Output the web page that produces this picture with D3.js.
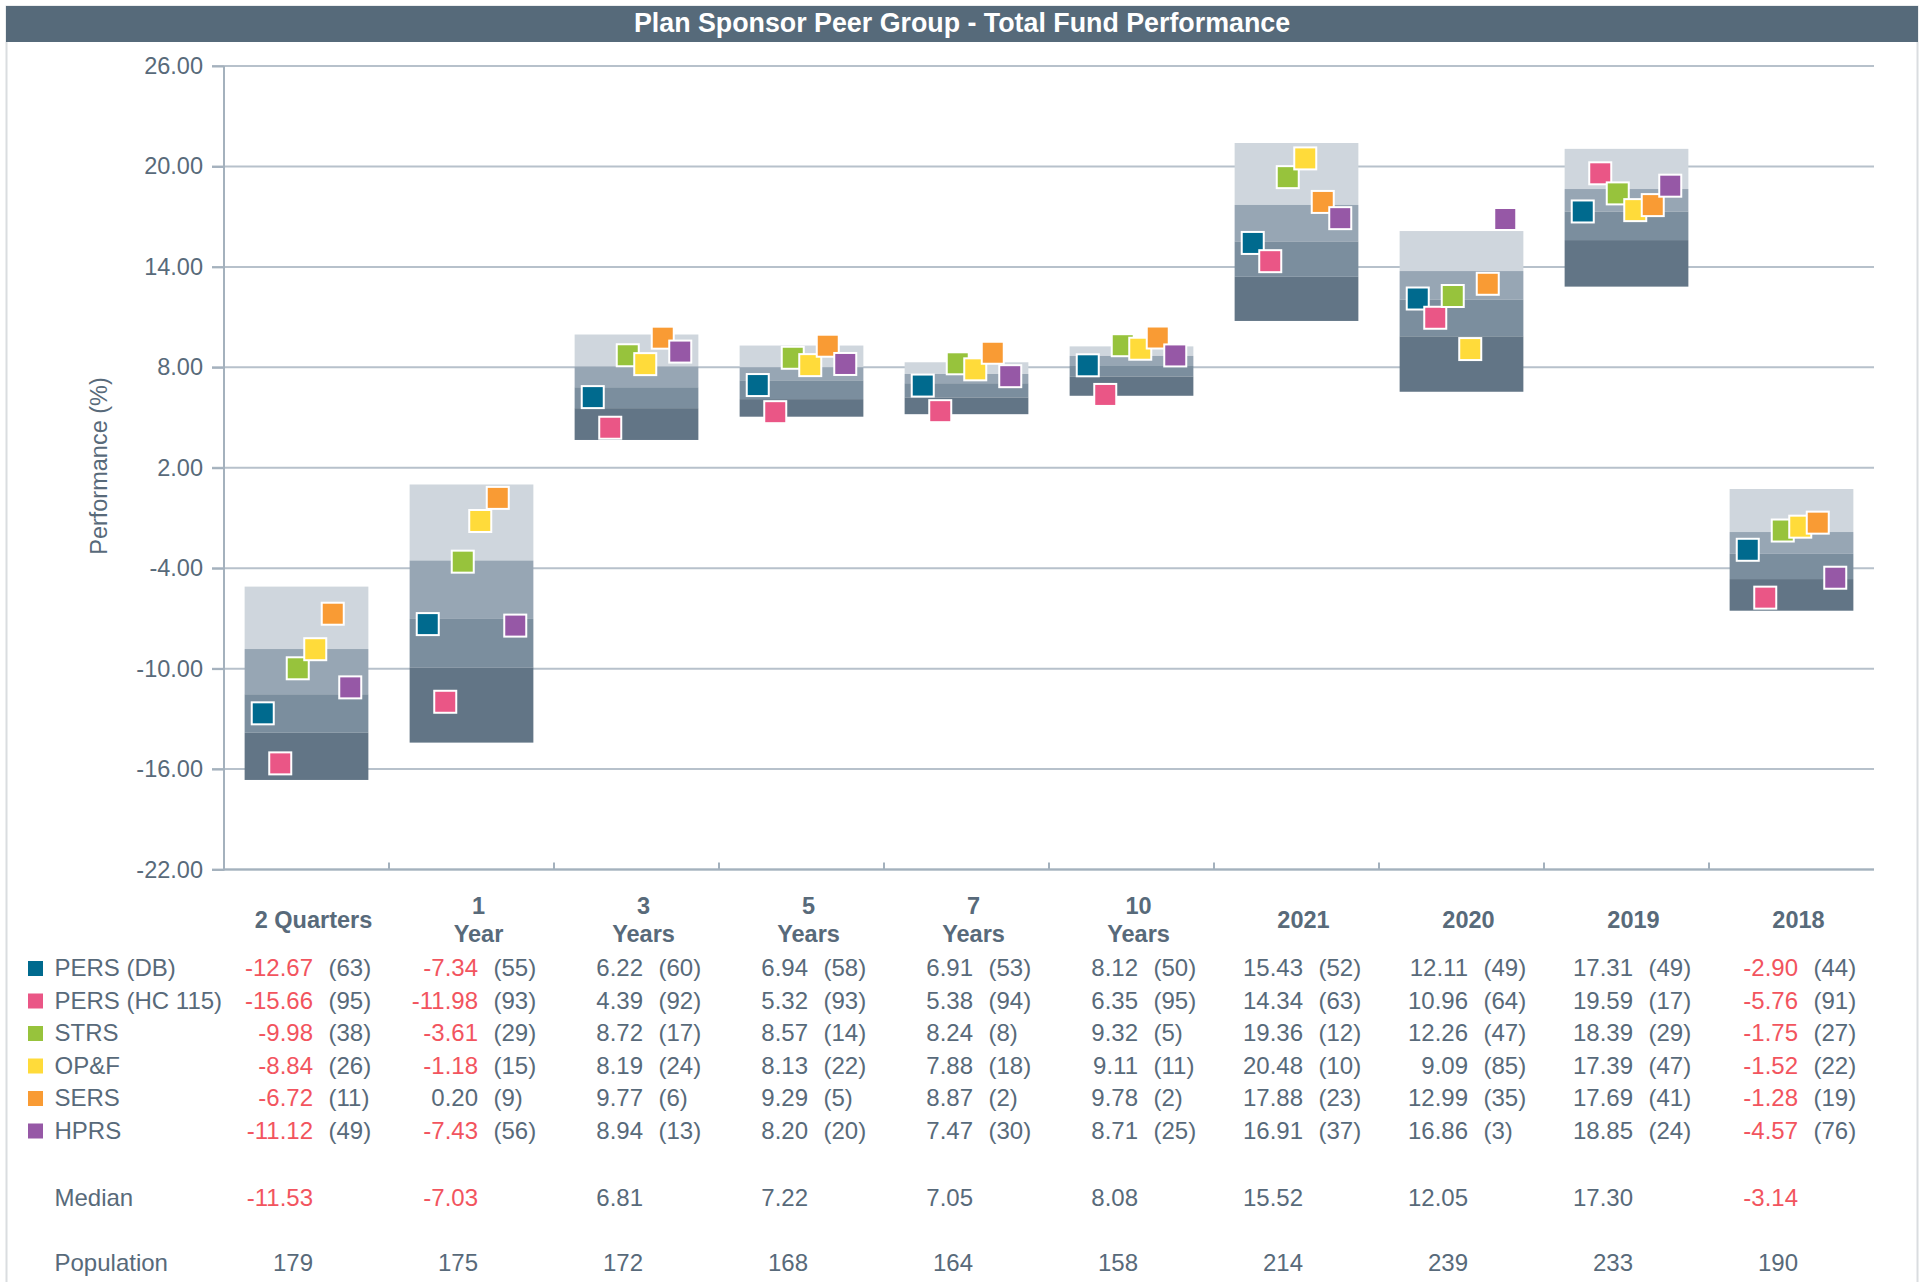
<!DOCTYPE html>
<html>
<head>
<meta charset="utf-8">
<script src="https://cdn.jsdelivr.net/npm/d3@7"></script>
<style>
  html, body { margin: 0; padding: 0; background: #fff; }
  svg { display: block; font-family: "Liberation Sans", Arial, sans-serif; }
</style>
</head>
<body>
<svg id="chart" width="1923" height="1282"></svg>
<script>
// ---------- DATA ----------
const title = "Plan Sponsor Peer Group - Total Fund Performance";
const yAxisTitle = "Performance (%)";
const categories = ["2 Quarters", "1 Year", "3 Years", "5 Years", "7 Years", "10 Years", "2021", "2020", "2019", "2018"];
const headerLines = [["2 Quarters"], ["1", "Year"], ["3", "Years"], ["5", "Years"], ["7", "Years"], ["10", "Years"], ["2021"], ["2020"], ["2019"], ["2018"]];
const yTicks = [26, 20, 14, 8, 2, -4, -10, -16, -22];

// peer group percentiles (5th, 25th, median, 75th, 95th)
const p05 = [-5.10, 1.00, 9.96, 9.30, 8.30, 9.25, 21.40, 16.14, 21.05, 0.73];
const p25 = [-8.83, -3.54, 8.05, 8.00, 7.60, 8.68, 17.70, 13.75, 18.65, -1.84];
const median = [-11.53, -7.03, 6.81, 7.22, 7.05, 8.08, 15.52, 12.05, 17.30, -3.14];
const p75 = [-13.83, -9.94, 5.56, 6.10, 6.20, 7.45, 13.41, 9.85, 15.60, -4.65];
const p95 = [-16.65, -14.42, 3.66, 5.05, 5.20, 6.30, 10.77, 6.54, 12.82, -6.54];
const population = [179, 175, 172, 168, 164, 158, 214, 239, 233, 190];

const seriesNames = ["PERS (DB)", "PERS (HC 115)", "STRS", "OP&F", "SERS", "HPRS"];
const persDB   = [-12.67, -7.34, 6.22, 6.94, 6.91, 8.12, 15.43, 12.11, 17.31, -2.90];
const persHC   = [-15.66, -11.98, 4.39, 5.32, 5.38, 6.35, 14.34, 10.96, 19.59, -5.76];
const strs     = [-9.98, -3.61, 8.72, 8.57, 8.24, 9.32, 19.36, 12.26, 18.39, -1.75];
const opf      = [-8.84, -1.18, 8.19, 8.13, 7.88, 9.11, 20.48, 9.09, 17.39, -1.52];
const sers     = [-6.72, 0.20, 9.77, 9.29, 8.87, 9.78, 17.88, 12.99, 17.69, -1.28];
const hprs     = [-11.12, -7.43, 8.94, 8.20, 7.47, 8.71, 16.91, 16.86, 18.85, -4.57];
const rankDB   = [63, 55, 60, 58, 53, 50, 52, 49, 49, 44];
const rankHC   = [95, 93, 92, 93, 94, 95, 63, 64, 17, 91];
const rankSTRS = [38, 29, 17, 14, 8, 5, 12, 47, 29, 27];
const rankOPF  = [26, 15, 24, 22, 18, 11, 10, 85, 47, 22];
const rankSERS = [11, 9, 6, 5, 2, 2, 23, 35, 41, 19];
const rankHPRS = [49, 56, 13, 20, 30, 25, 37, 3, 24, 76];

// ---------- STYLE ----------
const seriesColors = ["#006A8E", "#EA5686", "#97C33C", "#FFDB3A", "#F99B34", "#9658A6"];
const segColors = ["#CFD6DD", "#97A6B4", "#7B8E9E", "#627586"];
const textColor = "#586A7A";
const negColor = "#F2545E";
const gridColor = "#B7C1CB";
const axisColor = "#A4B1BD";
const fontSize = 24;

const seriesValues = [persDB, persHC, strs, opf, sers, hprs];
const seriesRanks = [rankDB, rankHC, rankSTRS, rankOPF, rankSERS, rankHPRS];
const series = seriesNames.map((n, i) => ({ name: n, color: seriesColors[i], values: seriesValues[i], ranks: seriesRanks[i] }));

const locale = d3.formatLocale({ decimal: ".", thousands: ",", grouping: [3], currency: ["$", ""], minus: "-" });
const fmt = locale.format(".2f");

const svg = d3.select("#chart");

// frame + title bar
svg.append("rect").attr("x", 6.5).attr("y", 6.5).attr("width", 1911).attr("height", 1290)
  .attr("fill", "#fff").attr("stroke", "#DADDE0").attr("stroke-width", 2);
svg.append("rect").attr("x", 6).attr("y", 6).attr("width", 1912).attr("height", 36).attr("fill", "#566A7A");
svg.append("text").attr("x", 962).attr("y", 31.5).attr("text-anchor", "middle")
  .attr("fill", "#fff").attr("font-weight", "bold").attr("font-size", 26.8).text(title);

// scales
const x0 = 224, x1 = 1874;
const x = d3.scaleBand().domain(categories).range([x0, x1]).paddingInner(0.25).paddingOuter(0.125);
const xs = d3.scaleBand().domain(seriesNames).range([-52.5, 52.5]);
const y = d3.scaleLinear().domain([-22, 26]).range([869.5, 66]);
const cx = c => x(c) + x.bandwidth() / 2;

// gridlines
svg.append("g").selectAll("line").data(yTicks).join("line")
  .attr("x1", x0 - 12).attr("x2", x1).attr("y1", d => y(d)).attr("y2", d => y(d))
  .attr("stroke", gridColor).attr("stroke-width", 2);

// y axis
const yAxis = d3.axisLeft(y).tickValues(yTicks).tickFormat(fmt).tickSize(12).tickPadding(9);
const gy = svg.append("g").attr("transform", `translate(${x0},0)`).call(yAxis);
gy.select(".domain").remove();
gy.selectAll(".tick line").attr("stroke", axisColor).attr("stroke-width", 2);
gy.selectAll(".tick text").attr("fill", textColor).attr("font-size", 23.5)
  .attr("font-family", "'Liberation Sans', Arial, sans-serif");
svg.append("line").attr("x1", x0).attr("x2", x0).attr("y1", y(26)).attr("y2", y(-22) + 1)
  .attr("stroke", axisColor).attr("stroke-width", 2);

// x axis line + band boundary ticks
svg.append("line").attr("x1", x0).attr("x2", x1).attr("y1", y(-22)).attr("y2", y(-22))
  .attr("stroke", axisColor).attr("stroke-width", 2);
svg.append("g").selectAll("line").data(categories.slice(1)).join("line")
  .attr("x1", d => x(d) - x.step() * x.paddingInner() / 2)
  .attr("x2", d => x(d) - x.step() * x.paddingInner() / 2)
  .attr("y1", y(-22) - 7).attr("y2", y(-22))
  .attr("stroke", axisColor).attr("stroke-width", 2);

// y axis title
svg.append("text").attr("transform", `translate(107,466) rotate(-90)`)
  .attr("text-anchor", "middle").attr("fill", textColor).attr("font-size", 23.5).text(yAxisTitle);

// floating percentile bars
const segs = [];
categories.forEach((c, i) => {
  const b = [p05[i], p25[i], median[i], p75[i], p95[i]];
  for (let k = 0; k < 4; k++) segs.push({ cat: c, top: b[k], bot: b[k + 1], k });
});
svg.append("g").selectAll("rect").data(segs).join("rect")
  .attr("x", d => x(d.cat)).attr("width", x.bandwidth())
  .attr("y", d => y(d.top)).attr("height", d => y(d.bot) - y(d.top))
  .attr("fill", d => segColors[d.k]);

// markers
const ms = 22;
series.forEach(s => {
  svg.append("g").selectAll("rect").data(categories).join("rect")
    .attr("x", (c, i) => cx(c) + xs(s.name) + xs.bandwidth() / 2 - ms / 2)
    .attr("y", (c, i) => y(s.values[i]) - ms / 2)
    .attr("width", ms).attr("height", ms)
    .attr("fill", s.color).attr("stroke", "#fff").attr("stroke-width", 2);
});

// ---------- TABLE ----------
const tbl = svg.append("g").attr("font-size", fontSize);
// headers
categories.forEach((c, i) => {
  const lines = headerLines[i];
  const hx = cx(c) + 7;
  const bases = lines.length === 1 ? [928] : [914, 941.5];
  lines.forEach((l, j) => {
    tbl.append("text").attr("x", hx).attr("y", bases[j]).attr("text-anchor", "middle")
      .attr("font-weight", "bold").attr("font-size", 23.5).attr("fill", textColor).text(l);
  });
});
// series rows
const rowBase = i => 976 + i * 32.5;
series.forEach((s, r) => {
  tbl.append("rect").attr("x", 28).attr("y", rowBase(r) - 15).attr("width", 15).attr("height", 15)
    .attr("fill", s.color);
  tbl.append("text").attr("x", 54.5).attr("y", rowBase(r)).attr("fill", textColor).text(s.name);
  categories.forEach((c, i) => {
    tbl.append("text").attr("x", cx(c) + 6.5).attr("y", rowBase(r)).attr("text-anchor", "end")
      .attr("fill", s.values[i] < 0 ? negColor : textColor).text(fmt(s.values[i]));
    tbl.append("text").attr("x", cx(c) + 22).attr("y", rowBase(r))
      .attr("fill", textColor).text(`(${s.ranks[i]})`);
  });
});
// median row
tbl.append("text").attr("x", 54.5).attr("y", 1205.5).attr("fill", textColor).text("Median");
categories.forEach((c, i) => {
  tbl.append("text").attr("x", cx(c) + 6.5).attr("y", 1205.5).attr("text-anchor", "end")
    .attr("fill", median[i] < 0 ? negColor : textColor).text(fmt(median[i]));
});
// population row
tbl.append("text").attr("x", 54.5).attr("y", 1271).attr("fill", textColor).text("Population");
categories.forEach((c, i) => {
  tbl.append("text").attr("x", cx(c) + 6.5).attr("y", 1271).attr("text-anchor", "end")
    .attr("fill", textColor).text(population[i]);
});
</script>
</body>
</html>
